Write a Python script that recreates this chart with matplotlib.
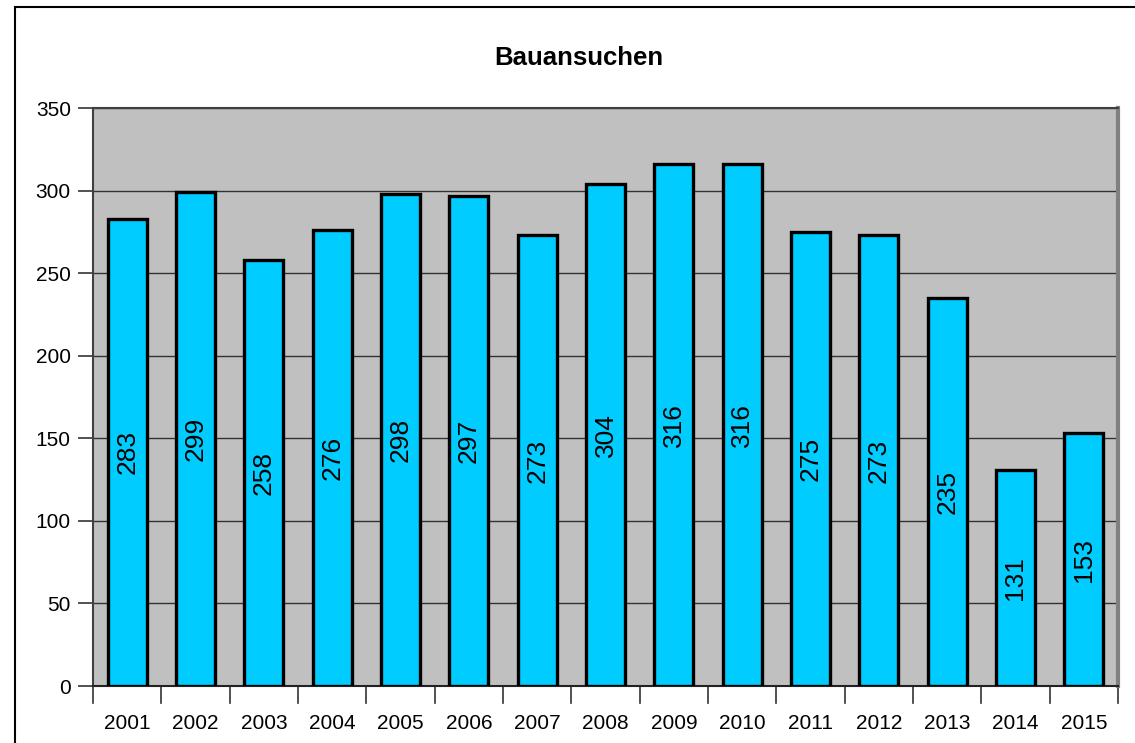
import matplotlib.pyplot as plt
from matplotlib.patches import Rectangle

years = ["2001", "2002", "2003", "2004", "2005", "2006", "2007", "2008",
         "2009", "2010", "2011", "2012", "2013", "2014", "2015"]
counts = [283, 299, 258, 276, 298, 297, 273, 304, 316, 316, 275, 273, 235, 131, 153]
yticks = [0, 50, 100, 150, 200, 250, 300, 350]

W, H = 1135, 743
plt.rcParams["font.family"] = ["Liberation Sans", "DejaVu Sans"]

fig = plt.figure(figsize=(W / 100, H / 100), dpi=100)
ax = fig.add_axes([93 / W, 1 - 686 / H, (1118 - 93) / W, (686 - 108) / H])

# outer chart border (cropped on right/bottom)
fig.patches.append(Rectangle((15 / W, -0.01), 1.05, 1 - 7 / H + 0.01,
                             transform=fig.transFigure, fill=False,
                             edgecolor="black", linewidth=1.5))

x = list(range(len(years)))
ax.set_facecolor("#C0C0C0")
ax.bar(x, counts, width=0.57, color="#00CCFF", edgecolor="black",
       linewidth=2.4, zorder=3)
for xi, v in zip(x, counts):
    ax.text(xi, v / 2, str(v), rotation=90, ha="center", va="center",
            fontsize=19, zorder=4)

ax.set_xlim(-0.5, len(years) - 0.5)
ax.set_ylim(0, 350)
ax.set_yticks(yticks)
ax.set_yticklabels([str(t) for t in yticks], fontsize=15)
ax.yaxis.grid(True, color="#333333", linewidth=1.0, zorder=1)
ax.set_axisbelow(True)

ax.set_xticks(x)
ax.set_xticklabels(years, fontsize=15)
ax.tick_params(axis="x", length=0, pad=20)
for b in [i - 0.5 for i in range(len(years) + 1)]:
    ax.plot([b, b], [0, -0.03], transform=ax.get_xaxis_transform(),
            color="#333333", linewidth=1.2, clip_on=False)
ax.tick_params(axis="y", length=11, width=1.2, color="#333333", pad=5)

for s in ["left", "top"]:
    ax.spines[s].set_color("#404040")
    ax.spines[s].set_linewidth(1.5)
ax.spines["bottom"].set_color("#222222")
ax.spines["bottom"].set_linewidth(1.5)
ax.spines["right"].set_color("#808080")
ax.spines["right"].set_linewidth(3)

fig.text(579 / W, 1 - 58 / H, "Bauansuchen", ha="center", va="center",
         fontsize=18.5, fontweight="bold")

fig.savefig("out.png", dpi=100)
